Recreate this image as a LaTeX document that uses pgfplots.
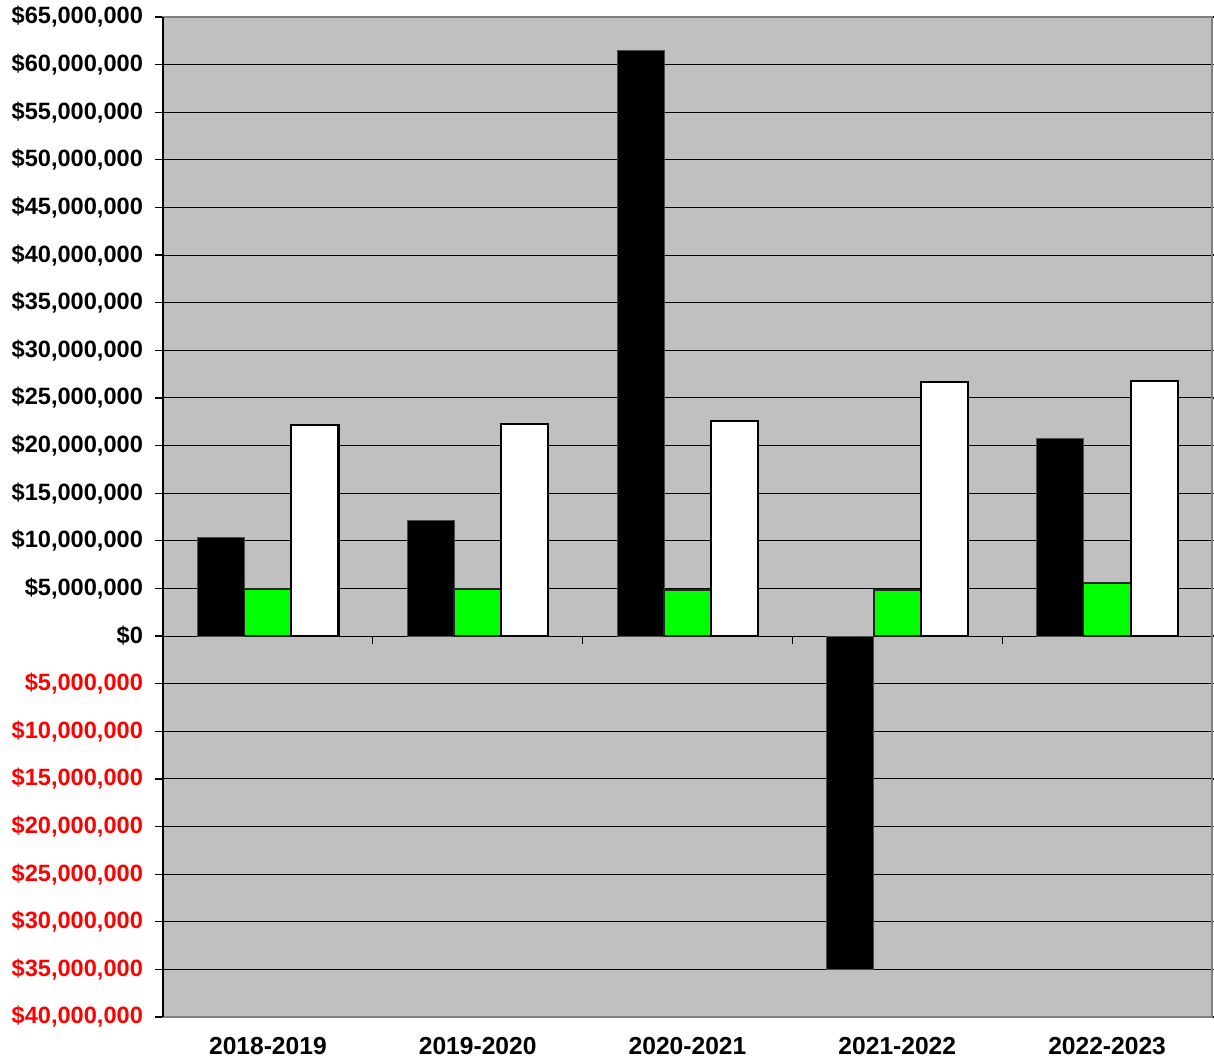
\documentclass[border=0pt]{standalone}
\usepackage{pgfplots}
\pgfplotsset{compat=1.18}
\usepackage{fontspec}
\setmainfont{Liberation Sans}
\definecolor{plotbg}{HTML}{C0C0C0}
\definecolor{framegray}{HTML}{808080}
\definecolor{brightgreen}{HTML}{00FF00}

% values in millions of dollars
\pgfplotstableread{
x  net     green  white
0  10.31   4.95   22.20
1  12.17   4.95   22.27
2  61.43   4.86   22.62
3  -35.00  4.83   26.67
4  20.70   5.59   26.79
}\budget

\begin{document}
\begin{tikzpicture}
\begin{axis}[
  at={(0,0)}, anchor=south west,
  scale only axis,
  width=524.5pt, height=500pt,
  xmin=-0.5, xmax=4.5,
  ymin=-40, ymax=65,
  axis background/.style={fill=plotbg},
  axis line style={framegray, line width=0.75pt},
  ybar=0pt, bar width=23.5pt,
  ytick={-40,-35,...,65},
  yticklabels={
    {\textcolor{red}{\$40,000,000}},{\textcolor{red}{\$35,000,000}},
    {\textcolor{red}{\$30,000,000}},{\textcolor{red}{\$25,000,000}},
    {\textcolor{red}{\$20,000,000}},{\textcolor{red}{\$15,000,000}},
    {\textcolor{red}{\$10,000,000}},{\textcolor{red}{\$5,000,000}},
    {\$0},{\$5,000,000},{\$10,000,000},{\$15,000,000},{\$20,000,000},
    {\$25,000,000},{\$30,000,000},{\$35,000,000},{\$40,000,000},
    {\$45,000,000},{\$50,000,000},{\$55,000,000},{\$60,000,000},{\$65,000,000}},
  xtick={0,1,2,3,4},
  xticklabels={2018-2019,2019-2020,2020-2021,2021-2022,2022-2023},
  tick align=outside,
  x tick style={draw=none},
  y tick style={black, line width=0.6pt},
  major tick length=4pt,
  ymajorgrids,
  grid style={black, line width=0.5pt},
  yticklabel style={font=\fontsize{11.8}{14}\selectfont\bfseries, xshift=-2.5pt},
  xticklabel style={font=\fontsize{12.3}{14}\selectfont\bfseries, yshift=-2.5pt},
  clip=false,
]
\addplot[fill=black, draw=black!70!white, line width=0.5pt] table[x=x, y=net] {\budget};
\addplot[fill=brightgreen, draw=black!85!white, line width=0.8pt] table[x=x, y=green] {\budget};
\addplot[fill=white, draw=black, line width=1.1pt] table[x=x, y=white] {\budget};
% category separators on the zero line
\pgfplotsinvokeforeach{0.5,1.5,2.5,3.5}{
  \draw[black, line width=0.5pt] (axis cs:#1,0) -- ([yshift=-4pt]axis cs:#1,0);
}
% dark value axis on the left
\draw[black, line width=0.9pt] (rel axis cs:0,0) -- (rel axis cs:0,1);
\end{axis}
\pgfresetboundingbox
\path (current axis.south west) ++(-81.5pt,-22pt) coordinate (bl);
\path (current axis.north east) ++(1pt,8.5pt) coordinate (tr);
\path (bl) rectangle (tr);
\end{tikzpicture}
\end{document}
